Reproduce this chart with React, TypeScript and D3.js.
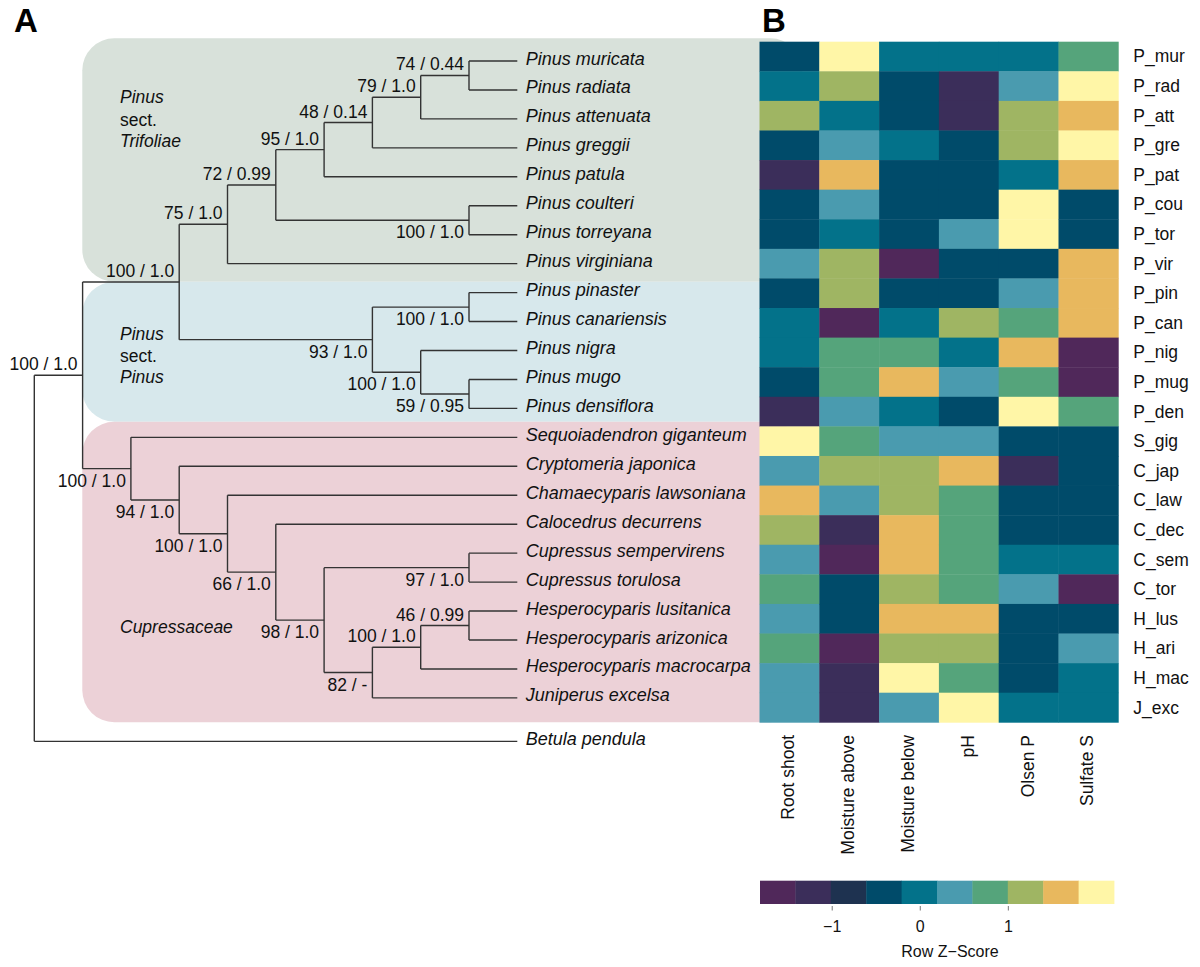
import * as d3 from 'd3';
import { useMemo } from 'react';

const FONT = '"Liberation Sans", Arial, Helvetica, sans-serif';

// heatmap rows (top to bottom) and columns
const ROW_LABELS = [
  "P_mur", "P_rad", "P_att", "P_gre", "P_pat", "P_cou", "P_tor", "P_vir",
  "P_pin", "P_can", "P_nig", "P_mug", "P_den", "S_gig", "C_jap", "C_law",
  "C_dec", "C_sem", "C_tor", "H_lus", "H_ari", "H_mac", "J_exc",
];
const COLUMNS = ["Root shoot", "Moisture above", "Moisture below", "pH", "Olsen P", "Sulfate S"];

// row z-scores, one array per column
const ROOT_SHOOT = [-0.4, 0.0, 1.2, -0.4, -1.2, -0.4, -0.4, 0.4, -0.4, 0.0, 0.0, -0.4, -1.2, 2.0, 0.4, 1.6, 1.2, 0.4, 0.8, 0.4, 0.8, 0.4, 0.4];
const MOISTURE_ABOVE = [2.0, 1.2, 0.0, 0.4, 1.6, 0.4, 0.0, 1.2, 1.2, -1.6, 0.8, 0.8, 0.4, 0.8, 1.2, 0.4, -1.2, -1.6, -0.4, -0.4, -1.6, -1.2, -1.2];
const MOISTURE_BELOW = [0.0, -0.4, -0.4, -0.2, -0.4, -0.4, -0.4, -1.6, -0.4, 0.0, 0.8, 1.6, 0.0, 0.4, 1.2, 1.2, 1.6, 1.6, 1.2, 1.6, 1.2, 2.0, 0.4];
const PH = [0.0, -1.2, -1.2, -0.4, -0.4, -0.4, 0.4, -0.4, -0.4, 1.2, 0.0, 0.4, -0.4, 0.4, 1.6, 0.8, 0.8, 0.8, 0.8, 1.6, 1.2, 0.8, 2.0];
const OLSEN_P = [0.0, 0.4, 1.2, 1.2, 0.0, 2.0, 2.0, -0.4, 0.4, 0.8, 1.6, 0.8, 2.0, -0.4, -1.2, -0.4, -0.4, 0.0, 0.4, -0.4, -0.4, -0.4, 0.0];
const SULFATE_S = [0.8, 2.0, 1.6, 2.0, 1.6, -0.4, -0.4, 1.6, 1.6, 1.6, -1.6, -1.6, 0.8, -0.4, -0.4, -0.4, -0.4, 0.0, -1.6, -0.4, 0.4, 0.0, 0.0];
const COLUMN_VALUES = [ROOT_SHOOT, MOISTURE_ABOVE, MOISTURE_BELOW, PH, OLSEN_P, SULFATE_S];

const LEGEND_COLORS = [
  "#50285a", "#3b2e5a", "#1e3250", "#004b6a", "#03728a",
  "#4a9baf", "#55a47b", "#9fb563", "#e8b85e", "#fff6a7",
];
const LEGEND_DOMAIN: [number, number] = [-1.82, 2.2];
const LEGEND_TICKS = [-1, 0, 1];

type TreeNode = { name?: string; id?: string; support?: string; children?: TreeNode[] };
const leaf = (name: string): TreeNode => ({ name });

const TREE: TreeNode = {
  id: "root",
  children: [
    { id: "conifers", support: "100 / 1.0", children: [
      { id: "pinus", support: "100 / 1.0", children: [
        { id: "trifoliae", support: "75 / 1.0", children: [
          { id: "n72", support: "72 / 0.99", children: [
            { id: "n95", support: "95 / 1.0", children: [
              { id: "n48", support: "48 / 0.14", children: [
                { id: "n79", support: "79 / 1.0", children: [
                  { id: "n74", support: "74 / 0.44", children: [leaf("Pinus muricata"), leaf("Pinus radiata")] },
                  leaf("Pinus attenuata"),
                ] },
                leaf("Pinus greggii"),
              ] },
              leaf("Pinus patula"),
            ] },
            { id: "couTor", support: "100 / 1.0", children: [leaf("Pinus coulteri"), leaf("Pinus torreyana")] },
          ] },
          leaf("Pinus virginiana"),
        ] },
        { id: "sectPinus", support: "93 / 1.0", children: [
          { id: "pinCan", support: "100 / 1.0", children: [leaf("Pinus pinaster"), leaf("Pinus canariensis")] },
          { id: "nigMug", support: "100 / 1.0", children: [
            leaf("Pinus nigra"),
            { id: "mugDen", support: "59 / 0.95", children: [leaf("Pinus mugo"), leaf("Pinus densiflora")] },
          ] },
        ] },
      ] },
      { id: "cupress", support: "100 / 1.0", children: [
        leaf("Sequoiadendron giganteum"),
        { id: "c94", support: "94 / 1.0", children: [
          leaf("Cryptomeria japonica"),
          { id: "c100", support: "100 / 1.0", children: [
            leaf("Chamaecyparis lawsoniana"),
            { id: "c66", support: "66 / 1.0", children: [
              leaf("Calocedrus decurrens"),
              { id: "c98", support: "98 / 1.0", children: [
                { id: "cupressus", support: "97 / 1.0", children: [leaf("Cupressus sempervirens"), leaf("Cupressus torulosa")] },
                { id: "c82", support: "82 / -", children: [
                  { id: "hesp", support: "100 / 1.0", children: [
                    { id: "h46", support: "46 / 0.99", children: [leaf("Hesperocyparis lusitanica"), leaf("Hesperocyparis arizonica")] },
                    leaf("Hesperocyparis macrocarpa"),
                  ] },
                  leaf("Juniperus excelsa"),
                ] },
              ] },
            ] },
          ] },
        ] },
      ] },
    ] },
    leaf("Betula pendula"),
  ],
};

const OUTGROUP = "Betula pendula";
const SUPPORT_BELOW = new Set([
  "couTor", "sectPinus", "pinCan", "nigMug", "mugDen",
  "cupress", "c94", "c100", "c66", "c98", "cupressus", "c82",
]);

export default function App() {
  const width = 1200;
  const height = 967;
  const HEAT = { left: 759.5, right: 1118.3, top: 41.7, bottom: 722.3 };
  const LEGEND = { left: 760, right: 1114, top: 880.7, bottom: 904 };

  const root = useMemo(() => {
    const r: any = d3.hierarchy(TREE);
    let i = 0;
    r.eachAfter((n: any) => {
      if (!n.children) {
        if (n.data.name === OUTGROUP) i += 0.5;
        n.row = i;
        i += 1;
      } else {
        n.row = d3.mean(n.children, (c: any) => c.row);
      }
    });
    return r;
  }, []);

  const xTree = d3.scaleLinear().domain([root.height, 0]).range([34.3, 517.3]);
  const yTree = d3.scaleLinear().domain([0, 1]).range([61, 89.95]);

  const xCol = d3.scaleBand<string>().domain(COLUMNS).range([HEAT.left, HEAT.right]);
  const yRow = d3.scaleBand<string>().domain(ROW_LABELS).range([HEAT.top, HEAT.bottom]);
  const color = d3.scaleQuantize<string>().domain(LEGEND_DOMAIN).range(LEGEND_COLORS);
  const xLegend = d3.scaleLinear().domain(LEGEND_DOMAIN).range([LEGEND.left, LEGEND.right]);

  const nodes: any[] = root.descendants();
  const internal = nodes.filter((n) => n.children);
  const leaves = nodes.filter((n) => !n.children);
  const stroke = "#333";

  return (
    <div style={{ position: 'absolute', left: 0, top: 0 }}>
      <svg width={width} height={height} style={{ display: 'block', fontFamily: FONT }}>
        <rect width={width} height={height} fill="#fff" />

        {/* clade backgrounds */}
        <rect x={82.3} y={38.3} width={720} height={243.4} rx={32} fill="#d8e1da" />
        <rect x={82.3} y={281.7} width={720} height={140} rx={32} fill="#d7e8ec" />
        <rect x={82.3} y={421.7} width={720} height={300.6} rx={32} fill="#ecd1d7" />

        <g fontStyle="italic" fontSize={17.5} fill="#111">
          <text x={120} y={103.3}>Pinus</text>
          <text x={120} y={125.7} fontStyle="normal">sect.</text>
          <text x={120} y={146.7}>Trifoliae</text>
          <text x={120} y={340}>Pinus</text>
          <text x={120} y={362.3} fontStyle="normal">sect.</text>
          <text x={120} y={383.3}>Pinus</text>
          <text x={120} y={633.3}>Cupressaceae</text>
        </g>

        {/* tree */}
        <g stroke={stroke} strokeWidth={1.4} fill="none">
          {internal.map((n, i) => {
            const ys = n.children.map((c: any) => yTree(c.row));
            return (
              <line key={`v${i}`} x1={xTree(n.height)} x2={xTree(n.height)}
                y1={d3.min(ys)} y2={d3.max(ys)} />
            );
          })}
          {nodes.filter((n) => n.parent).map((n, i) => (
            <line key={`h${i}`} x1={xTree(n.parent.height)} x2={xTree(n.height)}
              y1={yTree(n.row)} y2={yTree(n.row)} />
          ))}
        </g>

        <g fontSize={17.5} fill="#111" textAnchor="end">
          {internal.filter((n) => n.data.support).map((n, i) => (
            <text key={i} x={xTree(n.height) - 5}
              y={yTree(n.row) + (SUPPORT_BELOW.has(n.data.id) ? 18 : -5)}>
              {n.data.support}
            </text>
          ))}
        </g>

        <g fontSize={18} fontStyle="italic" fill="#111">
          {leaves.map((n, i) => (
            <text key={i} x={xTree(0) + 8.4} y={yTree(n.row) + 3.5}>{n.data.name}</text>
          ))}
        </g>

        {/* heatmap */}
        <g>
          {COLUMN_VALUES.map((vals, ci) =>
            vals.map((v, ri) => (
              <rect key={`${ci}-${ri}`}
                x={xCol(COLUMNS[ci])} y={yRow(ROW_LABELS[ri])}
                width={xCol.bandwidth() + 0.4} height={yRow.bandwidth() + 0.4}
                fill={color(v)} />
            ))
          )}
        </g>

        <g fontSize={17.5} fill="#111">
          {ROW_LABELS.map((r) => (
            <text key={r} x={HEAT.right + 15} y={(yRow(r) as number) + yRow.bandwidth() / 2 + 6}>{r}</text>
          ))}
          {COLUMNS.map((c) => {
            const x = (xCol(c) as number) + xCol.bandwidth() / 2 + 5;
            const y = HEAT.bottom + 12.7;
            return (
              <text key={c} transform={`translate(${x},${y}) rotate(-90)`} textAnchor="end">{c}</text>
            );
          })}
        </g>

        {/* legend */}
        <g>
          {LEGEND_COLORS.map((c) => {
            const [a, b] = color.invertExtent(c);
            return (
              <rect key={c} x={xLegend(a)} y={LEGEND.top} width={xLegend(b) - xLegend(a) + 0.4}
                height={LEGEND.bottom - LEGEND.top} fill={c} />
            );
          })}
          {LEGEND_TICKS.map((t) => (
            <g key={t} transform={`translate(${xLegend(t)},0)`}>
              <line y1={906} y2={910.5} stroke="#777" strokeWidth={1} />
              <text y={932} textAnchor="middle" fontSize={16} fill="#111">
                {t < 0 ? `\u2212${Math.abs(t)}` : `${t}`}
              </text>
            </g>
          ))}
          <text x={950} y={957} textAnchor="middle" fontSize={16} fill="#111">{"Row Z\u2212Score"}</text>
        </g>

        {/* panel letters */}
        <text x={14} y={32.3} fontSize={33} fontWeight="bold" fill="#000">A</text>
        <text x={762} y={32.3} fontSize={33} fontWeight="bold" fill="#000">B</text>
      </svg>
    </div>
  );
}
